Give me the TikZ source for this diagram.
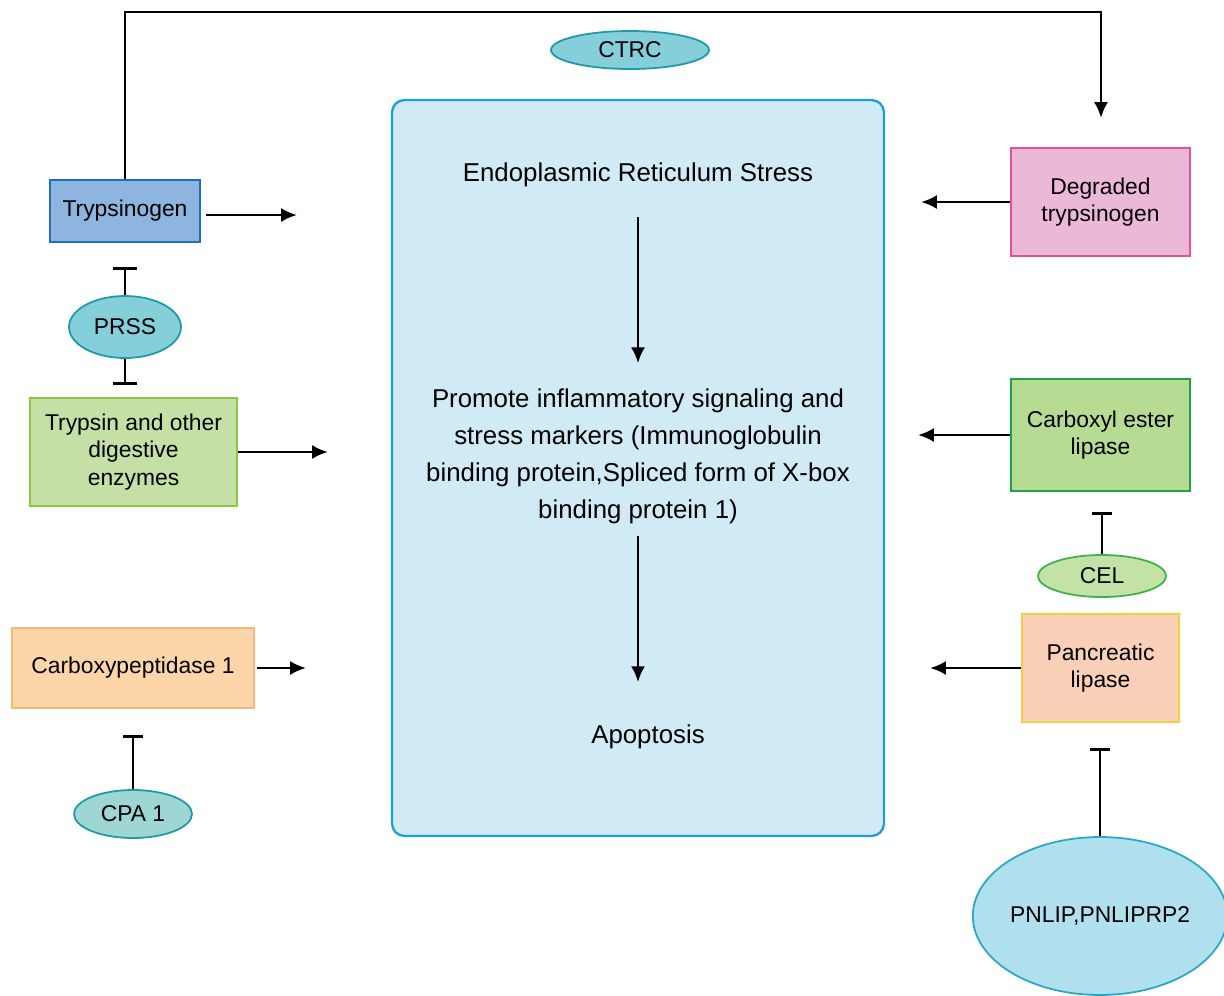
\documentclass[tikz,border=0pt]{standalone}
\usepackage{fontspec}
\setmainfont{Liberation Sans}
\usetikzlibrary{arrows.meta,shapes.geometric}

\definecolor{ctrcfill}{HTML}{84CFD9}
\definecolor{ctrcline}{HTML}{1D9AA8}
\definecolor{cpafill}{HTML}{9DD6D3}
\definecolor{erfill}{HTML}{D0EAF6}
\definecolor{erline}{HTML}{1AA0D8}
\definecolor{tgfill}{HTML}{8DB5E0}
\definecolor{tgline}{HTML}{1F6FC0}
\definecolor{tsfill}{HTML}{C5E0A5}
\definecolor{tsline}{HTML}{8DC63F}
\definecolor{cpfill}{HTML}{FCD5A8}
\definecolor{cpline}{HTML}{F5B77F}
\definecolor{dgfill}{HTML}{ECB8D8}
\definecolor{dgline}{HTML}{E0529C}
\definecolor{cefill}{HTML}{B5DC92}
\definecolor{celine}{HTML}{1FA34A}
\definecolor{celfill}{HTML}{C2E3A5}
\definecolor{celline}{HTML}{3CB04A}
\definecolor{plfill}{HTML}{FAD0B8}
\definecolor{plline}{HTML}{F5CC40}
\definecolor{pnfill}{HTML}{B0E0EE}
\definecolor{pnline}{HTML}{2AA7C8}

\begin{document}
\begin{tikzpicture}[x=0.02cm,y=-0.02cm,
    txt/.style={font=\fontsize{13}{15.5}\selectfont,align=center,inner sep=0pt},
    big/.style={txt,font=\fontsize{14.7}{21}\selectfont},
    box/.style 2 args={txt,draw,line width=1.1pt,minimum width=#1,minimum height=#2},
    oval/.style 2 args={txt,ellipse,draw,line width=1pt,minimum width=#1,minimum height=#2},
    arr/.style={-{Latex[length=9pt,width=8pt]},line width=1.6pt},
    inh/.style={-{Bar[width=#1]},line width=1.6pt},
    inh/.default=11pt]
    \useasboundingbox (0,0) rectangle (1224,995);
    % central box
    \node[draw=erline,fill=erfill,line width=1.3pt,rounded corners=7pt,
        minimum width=9.84cm,minimum height=14.72cm] (er) at (638,468) {};
    \node[big] (stress) at (638,175) {Endoplasmic Reticulum Stress};
    \node[big] (infl) at (638,456)
        {Promote inflammatory signaling and\\stress markers (Immunoglobulin\\binding protein,Spliced form of X-box\\binding protein 1)};
    \node[big] (apop) at (648,737) {Apoptosis};
    \draw[arr,shorten <=0.6cm,shorten >=0.5cm] (stress) -- (stress |- infl.north);
    \draw[arr,shorten <=0.25cm,shorten >=0.85cm] (infl.south) -- (apop.north -| infl.south);
    % left side
    \node[box={3cm}{1.24cm},fill=tgfill,draw=tgline] (tryp) at (125,211) {Trypsinogen};
    \node[oval={2.24cm}{1.24cm},fill=ctrcfill,draw=ctrcline] (prss) at (125,327) {PRSS};
    \node[box={4.14cm}{2.16cm},fill=tsfill,draw=tsline] (tsin) at (133.5,452) {Trypsin and other\\digestive\\enzymes};
    \node[box={4.84cm}{1.6cm},fill=cpfill,draw=cpline] (cpep) at (133,668) {Carboxypeptidase 1};
    \node[oval={2.36cm}{0.96cm},fill=cpafill,draw=ctrcline] (cpa) at (133,814) {CPA 1};
    % right side
    \node[box={3.58cm}{2.16cm},fill=dgfill,draw=dgline] (degr) at (1100.5,202) {Degraded\\trypsinogen};
    \node[box={3.58cm}{2.24cm},fill=cefill,draw=celine] (cel) at (1100.5,435) {Carboxyl ester\\lipase};
    \node[oval={2.56cm}{0.84cm},fill=celfill,draw=celline] (celg) at (1102,576) {CEL};
    \node[box={3.14cm}{2.16cm},fill=plfill,draw=plline] (plip) at (1100.5,668) {Pancreatic\\lipase};
    \node[oval={4.98cm}{3.16cm},fill=pnfill,draw=pnline] (pnl) at (1100,916) {PNLIP,PNLIPRP2};
    \node[oval={3.16cm}{0.76cm},fill=ctrcfill,draw=ctrcline] (ctrc) at (630,50) {CTRC};
    % free ends
    \coordinate (t1) at (297,215);
    \coordinate (t2) at (328,452);
    \coordinate (t3) at (306,668);
    \coordinate (t4) at (921,202);
    \coordinate (t5) at (918,435);
    \coordinate (t6) at (930,668);
    \coordinate (top) at (1101,12);
    \coordinate (tip) at (1101,118);
    \coordinate (b1) at (125,267);
    \coordinate (b2) at (125,385);
    \coordinate (b3) at (133,735);
    \coordinate (b4) at (1102,512);
    \coordinate (b5) at (1100,748);
    % connectors
    \draw[arr] (tryp.north) |- (top) -- (tip);
    \draw[arr] ([xshift=3pt]tryp.east |- t1) -- (t1);
    \draw[arr] (tsin.east |- t2) -- (t2);
    \draw[arr] ([xshift=1pt]cpep.east |- t3) -- (t3);
    \draw[arr] (degr.west |- t4) -- (t4);
    \draw[arr] (cel.west) -- (t5);
    \draw[arr] (plip.west) -- (t6);
    \draw[inh=14pt] (prss.north) -- (b1);
    \draw[inh=14pt] (prss.south) -- (b2);
    \draw[inh] (cpa.north) -- (b3);
    \draw[inh] (celg.north) -- (b4);
    \draw[inh] (pnl.north) -- (b5);
\end{tikzpicture}
\end{document}
